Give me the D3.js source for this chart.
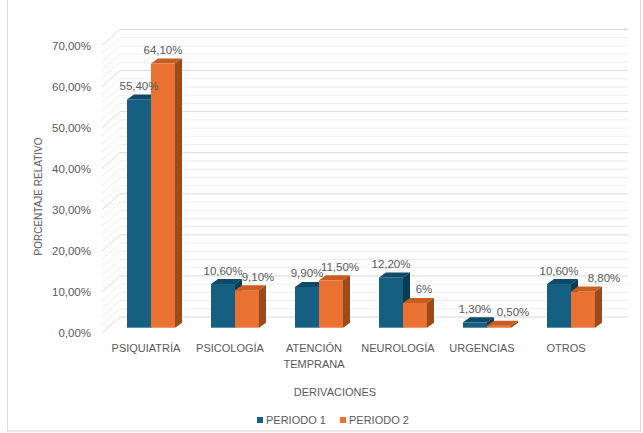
<!DOCTYPE html>
<html><head><meta charset="utf-8">
<script src="https://cdn.jsdelivr.net/npm/d3@7"></script>
<style>html,body{margin:0;padding:0;background:#fff;}svg{display:block;font-family:"Liberation Sans",Arial,sans-serif;}</style>
</head><body>
<script>
const categories = [["PSIQUIATRÍA"], ["PSICOLOGÍA"], ["ATENCIÓN", "TEMPRANA"], ["NEUROLOGÍA"], ["URGENCIAS"], ["OTROS"]];
const seriesNames = ["PERIODO 1", "PERIODO 2"];
const periodo1 = [55.4, 10.6, 9.9, 12.2, 1.3, 10.6];
const periodo2 = [64.1, 9.1, 11.5, 6, 0.5, 8.8];
const labels1 = ["55,40%", "10,60%", "9,90%", "12,20%", "1,30%", "10,60%"];
const labels2 = ["64,10%", "9,10%", "11,50%", "6%", "0,50%", "8,80%"];
const tickValues = [0, 10, 20, 30, 40, 50, 60, 70];
const tickLabels = ["0,00%", "10,00%", "20,00%", "30,00%", "40,00%", "50,00%", "60,00%", "70,00%"];

const W = 643, H = 433;
const colors = [
  {front: "#156082", top: "#0f4b68", side: "#0b3b52"},
  {front: "#e97132", top: "#c85d22", side: "#9d4a1b"}
];
const svg = d3.select("body").append("svg").attr("width", W).attr("height", H);

svg.append("rect").attr("x", 7.5).attr("y", -1).attr("width", 633).attr("height", 432)
  .attr("fill", "#fff").attr("stroke", "#d9d9d9");

// front-plane value scale (axis labels / side wall front edge)
const yFront = d3.scaleLinear().domain([0, 70]).range([333, 45.5]);
const wallDx = 18, wallDy = -16;
const wallX0 = 102, wallX1 = 628;

// minor gridlines every 2, major every 10
const grid = d3.range(0, 70.001, 2);
const gG = svg.append("g");
grid.forEach(v => {
  const major = Math.abs(v % 10) < 1e-9;
  const col = major ? "#d9d9d9" : "#ececec";
  const yf = yFront(v), yb = yf + wallDy;
  gG.append("line").attr("x1", wallX0 + wallDx).attr("x2", wallX1).attr("y1", yb).attr("y2", yb)
    .attr("stroke", col).attr("stroke-width", 1);
  gG.append("line").attr("x1", wallX0).attr("y1", yf).attr("x2", wallX0 + wallDx).attr("y2", yb)
    .attr("stroke", col).attr("stroke-width", 1);
});

// tick labels
const yAxis = d3.axisLeft(yFront).tickValues(tickValues).tickSize(0).tickPadding(0)
  .tickFormat((d, i) => tickLabels[i]);
const ax = svg.append("g").attr("transform", "translate(91,0)").call(yAxis);
ax.select(".domain").remove();
ax.selectAll("text").attr("fill", "#595959").style("font-size", "11.5px")
  .style("font-family", '"Liberation Sans",Arial,sans-serif');

// bars
const x = d3.scaleBand().domain(d3.range(categories.length)).range([109, 613]);
const barW = 24;
const yBar = d3.scaleLinear().domain([0, 70]).range([327.7, 327.7 - 70 * 4.12]);
const bDx = 7, bDy = -5;
const series = [periodo1, periodo2];
const barsG = svg.append("g");
categories.forEach((c, i) => {
  const cx = x(i) + x.bandwidth() / 2;
  series.forEach((vals, s) => {
    const x0 = cx - barW + s * barW, x1 = x0 + barW;
    const yt = yBar(vals[i]), yb = yBar(0);
    const col = colors[s];
    barsG.append("rect").attr("x", x0).attr("y", yt).attr("width", barW).attr("height", yb - yt).attr("fill", col.front);
    barsG.append("path").attr("d", `M${x0},${yt}L${x1},${yt}L${x1 + bDx},${yt + bDy}L${x0 + bDx},${yt + bDy}Z`).attr("fill", col.top);
    barsG.append("path").attr("d", `M${x1},${yt}L${x1 + bDx},${yt + bDy}L${x1 + bDx},${yb + bDy}L${x1},${yb}Z`).attr("fill", col.side);
  });
});

// data labels
const labelNudge2 = [0, 11, 9, 9, 14, 21];
const lg = svg.append("g").attr("fill", "#595959").style("font-size", "11.5px").attr("text-anchor", "middle");
categories.forEach((c, i) => {
  const cx = x(i) + x.bandwidth() / 2;
  lg.append("text").attr("x", cx - barW / 2).attr("y", yBar(periodo1[i]) + bDy - 4.5).text(labels1[i]);
  lg.append("text").attr("x", cx + barW / 2 + labelNudge2[i]).attr("y", yBar(periodo2[i]) + bDy - 4.5).text(labels2[i]);
});

// category labels
const cg = svg.append("g").attr("fill", "#595959").style("font-size", "11px").attr("text-anchor", "middle");
categories.forEach((c, i) => {
  const cx = x(i) + x.bandwidth() / 2 - 5;
  const t = cg.append("text").attr("x", cx).attr("y", 351.5);
  c.forEach((line, j) => t.append("tspan").attr("x", cx).attr("dy", j === 0 ? 0 : 16).text(line));
});

// axis titles
svg.append("text").attr("x", 335).attr("y", 395.5).attr("text-anchor", "middle").attr("fill", "#595959")
  .style("font-size", "11px").text("DERIVACIONES");
svg.append("text").attr("transform", "translate(41.5,196.5) rotate(-90)").attr("text-anchor", "middle")
  .attr("fill", "#595959").style("font-size", "10px").text("PORCENTAJE RELATIVO");

// legend
const legX = [257, 340];
seriesNames.forEach((n, s) => {
  svg.append("rect").attr("x", legX[s]).attr("y", 417).attr("width", 6).attr("height", 6).attr("fill", colors[s].front);
  svg.append("text").attr("x", legX[s] + 9).attr("y", 424).attr("fill", "#595959").style("font-size", "11px").text(n);
});
</script>
</body></html>
